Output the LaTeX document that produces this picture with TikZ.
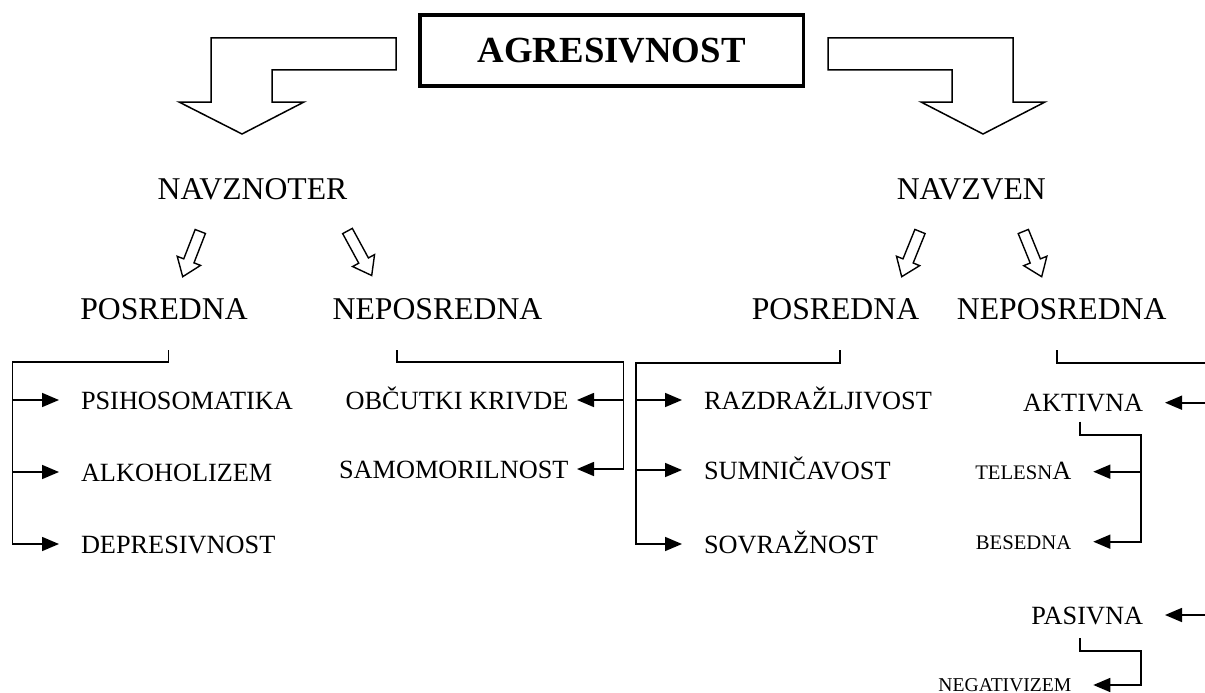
\documentclass[tikz,border=0pt]{standalone}
\usepackage{fontspec}
\setmainfont{Liberation Serif}
\usetikzlibrary{arrows.meta,calc}

\tikzset{
  headlabel/.style={inner sep=0pt, anchor=base, font=\fontsize{31.7}{36}\selectfont},
  itemlabel/.style={inner sep=0pt, text height=18pt, text depth=0pt, font=\fontsize{26.3}{30}\selectfont},
  subitem/.style={inner sep=0pt, text height=16pt, text depth=0pt, font=\fontsize{20.7}{24}\selectfont},
  fromleft/.style={anchor=west, outer xsep=22pt},
  fromright/.style={anchor=east, outer xsep=22pt},
  link/.style={line width=1.6pt, line join=miter},
  pointer/.style={link, -{Triangle[length=17pt,width=14pt]}},
  block/.style={line width=1.5pt, line join=miter},
  hollow/.style={line width=1.4pt, line join=miter},
  rootbox/.style={draw, line width=3.3pt, inner sep=0pt,
    minimum width=383.3pt, minimum height=71pt,
    font=\bfseries\fontsize{36.8}{42}\selectfont},
}

% outlined slanted arrow from tail #1 to tip #2
\newcommand\hollowarrow[2]{%
  \coordinate (#1m) at ($(#2)!17pt!(#1)$);
  \draw[hollow] ($(#1)!5.5pt!90:(#2)$) -- ($(#1m)!5.5pt!90:(#2)$) -- ($(#1m)!12.5pt!90:(#2)$)
    -- (#2) -- ($(#1m)!12.5pt!-90:(#2)$) -- ($(#1m)!5.5pt!-90:(#2)$) -- ($(#1)!5.5pt!-90:(#2)$) -- cycle;
}

\begin{document}
\begin{tikzpicture}[x=1pt, y=-1pt]
\useasboundingbox (0,0) rectangle (1205,693);

% root
\node[rootbox] (root) at (611.7,50.5) {AGRESIVNOST};

% wide block arrows
\draw[block] (211,38) -- (396,38) -- (396,70) -- (272,70) -- (272,102) -- (304,102)
  -- (242,134) -- (179,102) -- (211,102) -- cycle;
\draw[block] (828,38) -- (1013,38) -- (1013,102) -- (1045,102) -- (983,134)
  -- (921,102) -- (952,102) -- (952,70) -- (828,70) -- cycle;

% second level
\node[headlabel] (inward)  at (252.5,199) {NAVZNOTER};
\node[headlabel] (outward) at (971.3,199) {NAVZVEN};

% slanted outlined arrows
\coordinate (ha1) at (200.3,231.5); \coordinate (hb1) at (182.7,276.7);
\coordinate (ha2) at (347.5,231);   \coordinate (hb2) at (371.7,275.5);
\coordinate (ha3) at (920,231.5);   \coordinate (hb3) at (901.7,276.7);
\coordinate (ha4) at (1023.3,231.5);\coordinate (hb4) at (1041.7,276.7);
\hollowarrow{ha1}{hb1}
\hollowarrow{ha2}{hb2}
\hollowarrow{ha3}{hb3}
\hollowarrow{ha4}{hb4}

% third level
\node[headlabel] (inind) at (164,319)    {POSREDNA};
\node[headlabel] (indir) at (437.5,319)  {NEPOSREDNA};
\node[headlabel] (outind) at (835.5,319) {POSREDNA};
\node[headlabel] (outdir) at (1061.7,319){NEPOSREDNA};

% inward, indirect
\node[itemlabel, fromleft] (psi) at (59,400) {PSIHOSOMATIKA};
\node[itemlabel, fromleft] (alk) at (59,472) {ALKOHOLIZEM};
\node[itemlabel, fromleft] (dep) at (59,544) {DEPRESIVNOST};
\coordinate (tickA) at (168.3,350);
\coordinate (spineA) at (12.3,362);
\draw[pointer] (tickA) |- (spineA) |- (dep.west);
\draw[pointer] (spineA |- psi.west) -- (psi.west);
\draw[pointer] (spineA |- alk.west) -- (alk.west);

% inward, direct
\node[itemlabel, anchor=east, outer xsep=8.5pt] (guilt) at (577,400) {OBČUTKI KRIVDE};
\node[itemlabel, anchor=east, outer xsep=8.5pt] (suic)  at (577,469) {SAMOMORILNOST};
\coordinate (tickB) at (397,350);
\coordinate (spineB) at (623.5,362);
\draw[pointer] (tickB) |- (spineB) |- (suic.east);
\draw[pointer] (spineB |- guilt.east) -- (guilt.east);

% outward, indirect
\node[itemlabel, fromleft] (irr)  at (682,400) {RAZDRAŽLJIVOST};
\node[itemlabel, fromleft] (susp) at (682,470) {SUMNIČAVOST};
\node[itemlabel, fromleft] (host) at (682,544) {SOVRAŽNOST};
\coordinate (tickC) at (840,350);
\coordinate (spineC) at (636,362.7);
\draw[pointer] (tickC) |- (spineC) |- (host.west);
\draw[pointer] (spineC |- irr.west) -- (irr.west);
\draw[pointer] (spineC |- susp.west) -- (susp.west);

% outward, direct
\node[itemlabel, fromright] (act) at (1165,402.7) {AKTIVNA};
\node[itemlabel, fromright] (pas) at (1165,615)   {PASIVNA};
\coordinate (tickD) at (1056.7,350);
\coordinate (rimD) at (1205,362.7);
\draw[link] (tickD) |- (rimD);
\draw[pointer] (rimD |- act.east) -- (act.east);
\draw[pointer] (rimD |- pas.east) -- (pas.east);

% active forms
\node[subitem, fromright] (phys) at (1093.3,471.7)
  {TELESN{\fontsize{26.3}{30}\selectfont A}};
\node[subitem, fromright] (verb) at (1093.3,541.7) {BESEDNA};
\coordinate (tickE) at (1080,421.7);
\coordinate (spineE) at (1140.7,435);
\draw[pointer] (tickE) |- (spineE) |- (verb.east);
\draw[pointer] (spineE |- phys.east) -- (phys.east);

% passive forms
\node[subitem, fromright, text height=12pt, font=\fontsize{19.6}{23}\selectfont] (neg) at (1093.3,685) {NEGATIVIZEM};
\coordinate (tickF) at (1080,638.3);
\coordinate (spineF) at (1140.7,650.7);
\draw[pointer] (tickF) |- (spineF) |- (neg.east);
\end{tikzpicture}
\end{document}
